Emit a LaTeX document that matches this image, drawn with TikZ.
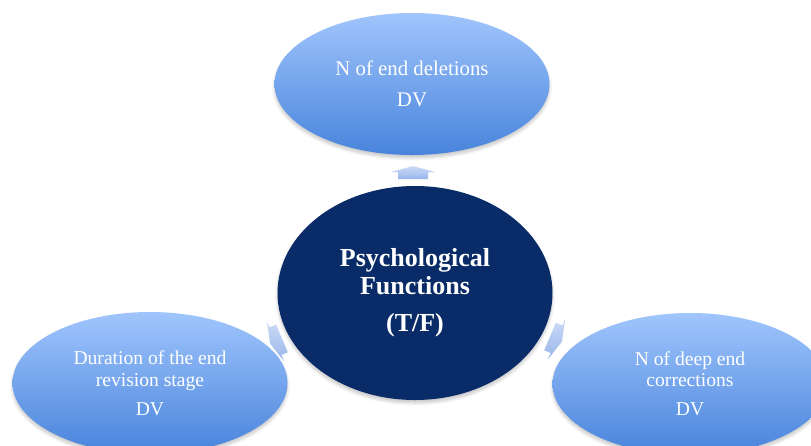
\documentclass[tikz,border=0pt]{standalone}
\usepackage{fontspec}
\setmainfont{Liberation Serif}
\usetikzlibrary{shapes.geometric,shadows.blur}

\definecolor{bubbletop}{RGB}{160,197,252}
\definecolor{bubblebot}{RGB}{72,132,220}
\definecolor{hubnavy}{RGB}{9,43,103}
\definecolor{arrowtop}{RGB}{204,218,246}
\definecolor{arrowbot}{RGB}{152,182,234}

\begin{document}
\begin{tikzpicture}[x=1pt,y=-1pt,
  softshadow/.style={blur shadow={shadow xshift=0pt, shadow yshift=-3pt,
      shadow opacity=22, shadow blur steps=6, shadow blur radius=3pt}},
  bubble/.style={ellipse, minimum width=275pt, minimum height=142pt,
      inner sep=0pt, top color=bubbletop, bottom color=bubblebot,
      text=white, align=center, softshadow},
  hub/.style={ellipse, minimum width=275pt, minimum height=214pt,
      inner sep=0pt, fill=hubnavy, text=white, align=center,
      font=\bfseries\fontsize{26}{28}\selectfont, softshadow},
  pointer/.pic={
    \path[top color=arrowtop, bottom color=arrowbot]
      (0pt,6.5pt) -- (22pt,0.5pt) -- (15pt,0.5pt) -- (15pt,-6.5pt)
      -- (-15pt,-6.5pt) -- (-15pt,0.5pt) -- (-22pt,0.5pt) -- cycle;
  }]
  \useasboundingbox (0,0) rectangle (811,445);
  \clip (0,0) rectangle (811,445);

  % outer ellipses
  \node[bubble, font=\fontsize{20.8}{24}\selectfont] (deletions) at (412,84)
    {N of end deletions\\[7pt]DV};
  \node[bubble, font=\fontsize{19.6}{22}\selectfont] (duration) at (150,383)
    {Duration of the end\\revision stage\\[7pt]DV};
  \node[bubble, font=\fontsize{19.6}{21}\selectfont] (corrections) at (690,384)
    {N of deep end\\corrections\\[8pt]DV};

  % central hub
  \node[hub] (hub) at (415,293) {Psychological\\Functions\\[9pt](T/F)};

  % block arrows pointing outwards from the hub
  \pic (toTop)   at (413,172.5) {pointer};
  \pic[rotate=113]  (toLeft)  at (276,341) {pointer};
  \pic[rotate=-113] (toRight) at (556,339) {pointer};
\end{tikzpicture}
\end{document}
